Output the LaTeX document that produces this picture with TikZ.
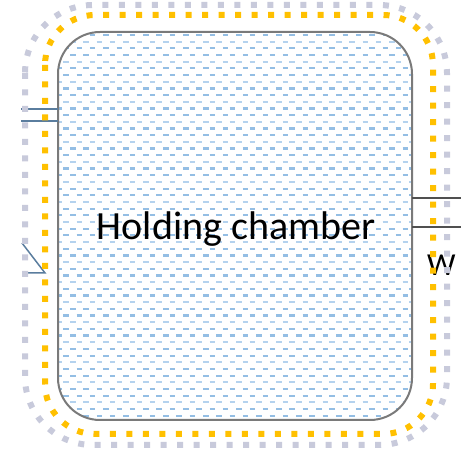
\documentclass[tikz,border=0pt]{standalone}
\usepackage{fontspec}
\setmainfont{Carlito}
\usepackage{tikz}
\definecolor{haloGray}{HTML}{C8CADB}
\definecolor{haloGold}{HTML}{FFC000}
\definecolor{rimGray}{HTML}{7A7A7A}
\definecolor{waterDark}{HTML}{5B9BD5}
\definecolor{waterLight}{HTML}{B4D2EE}
\definecolor{pipeBlue}{HTML}{5A7D9E}
\definecolor{pipeDark}{HTML}{505050}
\tikzset{
  halo/.style={line width=6pt, dash pattern=on 6pt off 10.5pt},
  chamber/.style={draw=rimGray, line width=2pt, rounded corners=42pt},
  ripple/.style={line width=2.2pt, dash pattern=on 5.5pt off 7.8pt},
  pipe/.style={line width=1.5pt},
  tag/.style={font=\fontsize{40}{48}\selectfont, inner sep=0pt, anchor=base}
}

\begin{document}
\begin{tikzpicture}[x=1pt,y=-1pt]
  \useasboundingbox (0,0) rectangle (461,454);

  % Water fill of the chamber, clipped to its outline.
  \begin{scope}
    \clip[rounded corners=42pt] (58,32) rectangle (412,420);
    \fill[white] (58,32) rectangle (412,420);
    \foreach \i in {0,...,58} {
      \pgfmathsetmacro{\rowY}{35+\i*6.68}
      \pgfmathsetmacro{\rowShift}{mod(\i,2)*6.6}
      \pgfmathtruncatemacro{\rowTone}{mod(\i,3)}
      \ifnum\rowTone=1
        \draw[ripple, waterLight, dash phase=\rowShift pt] (50,\rowY) -- (420,\rowY);
      \else
        \draw[ripple, waterDark!65, dash phase=\rowShift pt] (50,\rowY) -- (420,\rowY);
      \fi
    }
  \end{scope}
  \draw[chamber] (58,32) rectangle (412,420);

  % Inlet and outlet pipes.
  \draw[pipe, pipeBlue] (21,109) -- (58,109);
  \draw[pipe, pipeBlue] (21,121) -- (58,121);
  \draw[pipe, pipeBlue] (22,243) -- (45,273) -- (22,273);
  \draw[pipe, pipeDark] (412,198) -- (461,198);
  \draw[pipe, pipeDark] (412,227) -- (461,227);

  % Labels.
  \node[tag] (holding) at (236,240) {Holding chamber};
  \node[font=\fontsize{32}{38}\selectfont, inner sep=0pt, anchor=base west]
    (outlet) at (427,276) {W};

  % Dotted boundary rings.
  \draw[halo, haloGray, rounded corners=68pt] (25,5) rectangle (447,445);
  \draw[halo, haloGold, rounded corners=50pt] (45,15) rectangle (433,434);
\end{tikzpicture}
\end{document}
